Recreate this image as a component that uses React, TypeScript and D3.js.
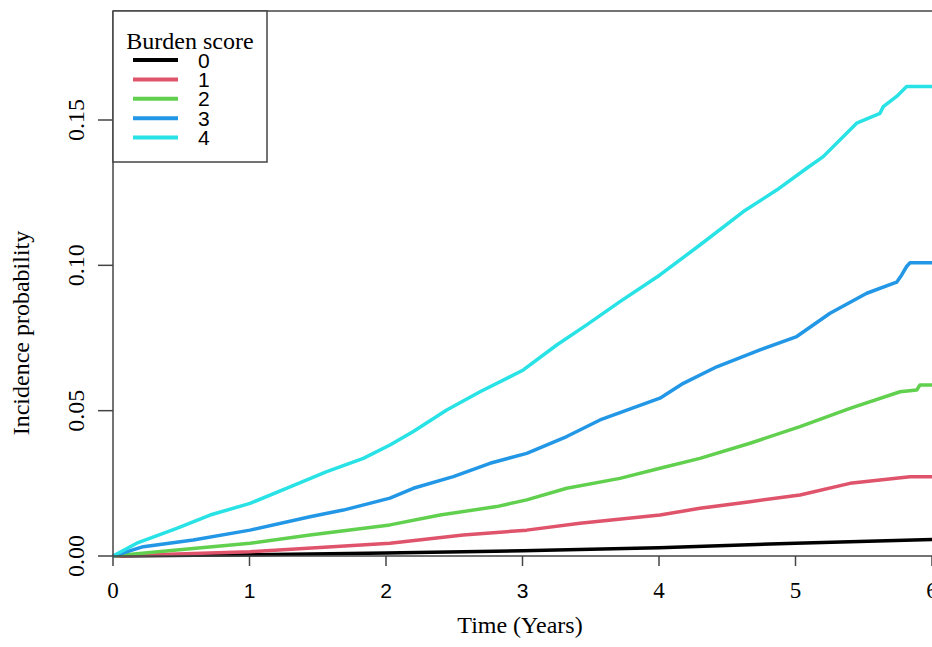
import * as d3 from "d3";

// cumulative incidence, one time/value pair per point
const times0 = [0, 1, 2, 3, 4, 5, 6];
const vals0 = [0, 0.0004, 0.001, 0.0018, 0.0028, 0.0044, 0.0057];

const times1 = [0, 1.004, 2.029, 2.566, 3.031, 3.421, 4.007, 4.3, 4.667, 5.033, 5.399, 5.839, 6];
const vals1 = [0, 0.0015, 0.0044, 0.0072, 0.0089, 0.0113, 0.0141, 0.0164, 0.0187, 0.021, 0.025, 0.0273, 0.0273];

const times2 = [0, 0.467, 1.004, 1.443, 2.029, 2.396, 2.811, 3.031, 3.324, 3.714, 4.007, 4.3, 4.667, 5.033, 5.399, 5.766, 5.888, 5.912, 6];
const vals2 = [0, 0.0021, 0.0044, 0.0072, 0.0107, 0.0141, 0.017, 0.0193, 0.0233, 0.0267, 0.0302, 0.0336, 0.0388, 0.0445, 0.0508, 0.0565, 0.0571, 0.0588, 0.0588];

const times3 = [0, 0.222, 0.588, 1.004, 1.443, 1.687, 2.029, 2.2, 2.493, 2.762, 3.031, 3.324, 3.568, 4.007, 4.178, 4.423, 4.74, 5.009, 5.253, 5.522, 5.741, 5.778, 5.814, 5.839, 6];
const vals3 = [0, 0.0032, 0.0055, 0.0089, 0.0135, 0.0158, 0.0199, 0.0233, 0.0273, 0.0319, 0.0353, 0.0411, 0.0468, 0.0543, 0.0594, 0.0651, 0.0709, 0.0755, 0.0835, 0.0904, 0.0942, 0.0967, 0.0996, 0.1009, 0.1009];

const times4 = [0, 0.174, 0.467, 0.711, 1.004, 1.297, 1.566, 1.834, 2.029, 2.2, 2.445, 2.689, 3.006, 3.251, 3.47, 3.714, 4.007, 4.3, 4.618, 4.862, 5.082, 5.203, 5.448, 5.619, 5.643, 5.741, 5.814, 6];
const vals4 = [0, 0.0044, 0.0095, 0.0141, 0.0181, 0.0238, 0.029, 0.0336, 0.0382, 0.0428, 0.0502, 0.0565, 0.064, 0.0726, 0.0795, 0.0875, 0.0967, 0.107, 0.1185, 0.1259, 0.1334, 0.1374, 0.1489, 0.1523, 0.1546, 0.1581, 0.1615, 0.1615];

const scores = ["0", "1", "2", "3", "4"];
const colors = ["#000000", "#DF536B", "#61D04F", "#2297E6", "#28E2E5"];
const xTicks = [0, 1, 2, 3, 4, 5, 6];
const yTicks = [0, 0.05, 0.1, 0.15];

const series = [
  [times0, vals0],
  [times1, vals1],
  [times2, vals2],
  [times3, vals3],
  [times4, vals4],
];

const width = 932;
const height = 647;
const marginLeft = 113;
const marginTop = 11;
const marginBottom = 91;
const serif = "'Liberation Serif', 'DejaVu Serif', serif";
const sans = "'Liberation Sans', Arial, sans-serif";
// the reference draws these tick labels in a sans face
const sansTicks = new Set([1, 2, 3]);

export default function App() {
  const x = d3.scaleLinear([0, 6], [marginLeft, width]);
  const y = d3.scaleLinear([0, 0.1875], [height - marginBottom, marginTop]);
  const line = d3
    .line<[number, number]>()
    .x((d) => x(d[0]))
    .y((d) => y(d[1]));

  const y0 = y(0);

  return (
    <svg
      width={width}
      height={height}
      style={{ position: "absolute", left: 0, top: 0, background: "white" }}
    >
      {/* curves */}
      <g fill="none" strokeWidth={3.5} strokeLinejoin="round">
        {series.map(([ts, vs], i) => (
          <path
            key={i}
            stroke={colors[i]}
            d={line(ts.map((t, j) => [t, vs[j]] as [number, number])) ?? ""}
          />
        ))}
      </g>

      {/* box: top, left, bottom */}
      <g stroke="#444" strokeWidth={1.5} fill="none">
        <line x1={marginLeft} x2={width} y1={marginTop} y2={marginTop} />
        <line x1={marginLeft} x2={marginLeft} y1={marginTop} y2={y0} />
        <line x1={marginLeft} x2={width} y1={y0} y2={y0} />
      </g>

      {/* x axis */}
      <g>
        {xTicks.map((t) => (
          <g key={t}>
            <line x1={x(t)} x2={x(t)} y1={y0} y2={y0 + 10} stroke="#444" strokeWidth={1.5} />
            <text
              x={x(t)}
              y={598}
              textAnchor="middle"
              fontFamily={sansTicks.has(t) ? sans : serif}
              fontSize={sansTicks.has(t) ? 21 : 23}
              fill="#000"
            >
              {t}
            </text>
          </g>
        ))}
        <text x={520} y={633} textAnchor="middle" fontFamily={serif} fontSize={24}>
          Time (Years)
        </text>
      </g>

      {/* y axis */}
      <g>
        {yTicks.map((v) => (
          <g key={v}>
            <line x1={marginLeft - 15} x2={marginLeft} y1={y(v)} y2={y(v)} stroke="#444" strokeWidth={1.5} />
            <text
              transform={`translate(84,${y(v)}) rotate(-90)`}
              textAnchor="middle"
              fontFamily={serif}
              fontSize={24}
            >
              {d3.format(".2f")(v)}
            </text>
          </g>
        ))}
        <text
          transform="translate(29,333) rotate(-90)"
          textAnchor="middle"
          fontFamily={serif}
          fontSize={24}
        >
          Incidence probability
        </text>
      </g>

      {/* legend */}
      <g>
        <rect x={marginLeft} y={marginTop} width={154} height={151} fill="white" stroke="#444" strokeWidth={1.5} />
        <text x={190} y={49} textAnchor="middle" fontFamily={serif} fontSize={24}>
          Burden score
        </text>
        {scores.map((s, i) => {
          const ly = 60 + i * 19.4;
          return (
            <g key={s}>
              <line x1={133} x2={178} y1={ly} y2={ly} stroke={colors[i]} strokeWidth={4} />
              <text x={198} y={ly + 7.5} fontFamily={sans} fontSize={21}>
                {s}
              </text>
            </g>
          );
        })}
      </g>
    </svg>
  );
}
